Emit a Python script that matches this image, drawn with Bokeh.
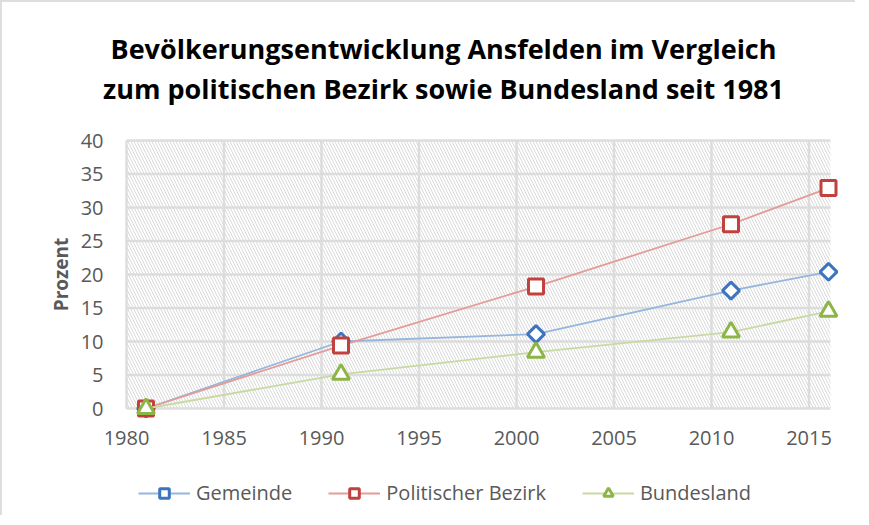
import math
from bokeh.plotting import figure
from bokeh.models import Range1d, BoxAnnotation, Legend, LegendItem, FixedTicker, Label
from bokeh.embed import file_html
from bokeh.resources import INLINE

years = [1981, 1991, 2001, 2011, 2016]
gemeinde = [0, 10.0, 11.1, 17.6, 20.4]
bezirk = [0, 9.4, 18.2, 27.5, 32.9]
bundesland = [0, 5.1, 8.4, 11.4, 14.5]
x_ticks = [1980, 1985, 1990, 1995, 2000, 2005, 2010, 2015]
y_ticks = [0, 5, 10, 15, 20, 25, 30, 35, 40]
title_lines = ["Bevölkerungsentwicklung Ansfelden im Vergleich",
               "zum politischen Bezirk sowie Bundesland seit 1981"]

FONT = "Open Sans"
PX_YR = 19.5      # pixels per year
PX_PCT = 6.7      # pixels per percent
TOP_PX = 138      # space above the 40 % line
BOT_PX = 107      # space below the 0 % line
X0 = 1980 - 124 / PX_YR
X1 = X0 + 853 / PX_YR
Y0 = -BOT_PX / PX_PCT
Y1 = 40 + TOP_PX / PX_PCT
XMIN, XMAX = 1980, 2016.1
YMIN, YMAX = y_ticks[0], y_ticks[-1]

p = figure(frame_width=853, frame_height=TOP_PX + 268 + BOT_PX, output_backend="svg",
           toolbar_location=None, x_range=Range1d(X0, X1), y_range=Range1d(Y0, Y1),
           min_border_left=0, min_border_right=0, min_border_top=0, min_border_bottom=0)

p.styles = {"border-left": "2px solid #dedede", "border-top": "2px solid #dedede"}
p.outline_line_color = None
p.border_fill_color = "white"
p.background_fill_color = "white"
p.xgrid.visible = False
p.ygrid.visible = False

# hatched plot background
p.add_layout(BoxAnnotation(left=XMIN, right=XMAX, bottom=YMIN, top=YMAX,
                           fill_alpha=0, line_alpha=0,
                           hatch_pattern="\\", hatch_color="#d9d9d9",
                           hatch_scale=6, hatch_weight=1, level="underlay"))

# grid lines limited to the plot area, drawn from the tick lists
p.segment(x0=x_ticks, y0=YMIN, x1=x_ticks, y1=YMAX,
          line_color="#dedede", line_width=2.5, level="underlay")
p.segment(x0=XMIN, y0=y_ticks, x1=XMAX, y1=y_ticks,
          line_color="#dedede", line_width=2.5, level="underlay")

# two-line title
for i, line in enumerate(title_lines):
    p.add_layout(Label(x=X0 + 441 / PX_YR, y=40 + (92 - 40 * i) / PX_PCT, text=line,
                       text_align="center", text_baseline="middle",
                       text_font=FONT, text_font_size="27px", text_font_style="bold",
                       text_color="#000000"))

for ax in (p.xaxis[0], p.yaxis[0]):
    ax.axis_line_color = None
    ax.major_tick_line_color = None
    ax.minor_tick_line_color = None
    ax.major_tick_out = 0
    ax.major_tick_in = 0
    ax.minor_tick_out = 0
    ax.major_label_text_font = FONT
    ax.major_label_text_font_size = "20px"
    ax.major_label_text_color = "#595959"

p.xaxis.fixed_location = 0
p.yaxis.fixed_location = 1980
p.xaxis.major_label_standoff = 22
p.yaxis.major_label_standoff = 23
p.xaxis.ticker = FixedTicker(ticks=x_ticks)
p.yaxis.ticker = FixedTicker(ticks=y_ticks)

p.add_layout(Label(x=1980 - 66 / PX_YR, y=20, text="Prozent", angle=math.pi / 2,
                   text_align="center", text_baseline="middle",
                   text_font=FONT, text_font_size="19px", text_font_style="bold",
                   text_color="#595959"))

series = [
    ("Gemeinde", gemeinde, "#95b6dd", "#3b74bf", "square", 12, math.pi / 4),
    ("Politischer Bezirk", bezirk, "#e39c9a", "#c0413d", "square", 15, 0),
    ("Bundesland", bundesland, "#c8daa2", "#8db546", "triangle", 17, 0),
]
items = []
for name, vals, lc, mc, marker, size, ang in series:
    l = p.line(years, vals, line_color=lc, line_width=1.8)
    s = p.scatter(years, vals, marker=marker, size=size, angle=ang, fill_color="white",
                  line_color=mc, line_width=3)
    items.append(LegendItem(label=name, renderers=[l, s]))

legend = Legend(items=items, orientation="horizontal", location=(136, 9),
                border_line_color=None, background_fill_alpha=0, label_text_font=FONT,
                label_text_font_size="20px", label_text_color="#595959",
                glyph_width=52, glyph_height=24, label_height=24, label_standoff=6,
                spacing=36, padding=4, margin=0)
p.add_layout(legend, "center")

open("out.html", "w").write(file_html(p, INLINE))
